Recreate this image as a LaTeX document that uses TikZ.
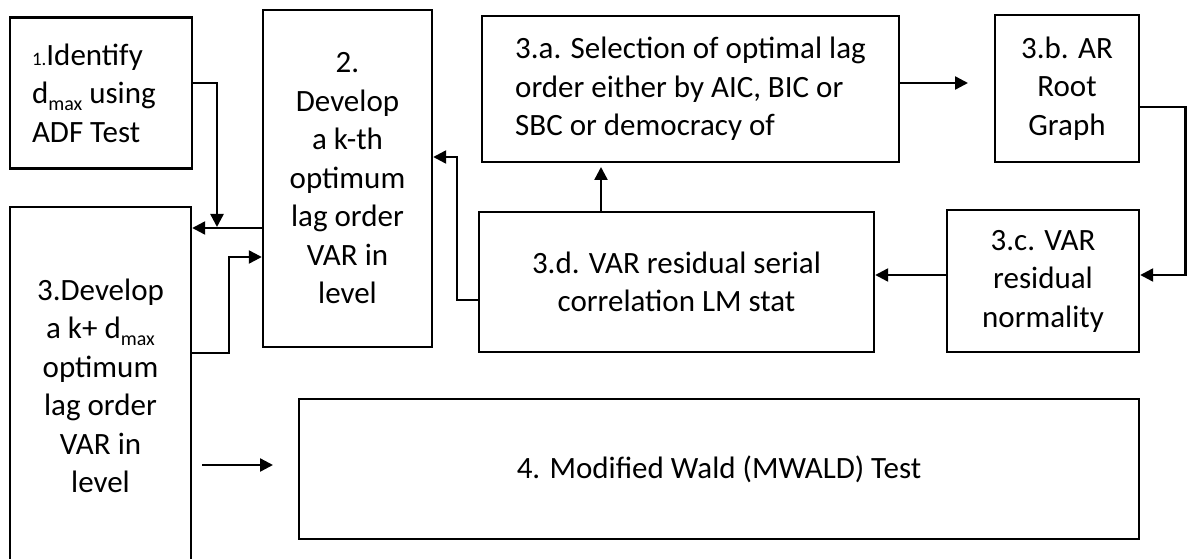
\documentclass[tikz,border=0pt]{standalone}
\usepackage{fontspec}
\setmainfont{Carlito}
\usetikzlibrary{arrows.meta}
% subscript "max" and the small step number
\newcommand{\dsub}{d\raisebox{-0.22em}{\fontsize{20}{20}\selectfont max}}
\newcommand{\smallnum}[1]{{\fontsize{19}{19}\selectfont #1}}
\tikzset{
  box/.style={draw=black, line width=2.4pt, rectangle, inner sep=0pt,
    font=\fontsize{31}{38.5}\selectfont, align=center},
  arr/.style={draw=black, line width=2.4pt,
    -{Triangle[length=13pt,width=13pt]}},
}
\begin{document}
\begin{tikzpicture}[x=1pt,y=-1pt]
\clip (0,0) rectangle (1187,559);
\fill[white] (0,0) rectangle (1187,559);

% boxes
\node[box, minimum width=182pt, minimum height=151pt, text width=138pt, align=flush left]
  (b1) at (101,93) {\smallnum{1.}Identify\\ \dsub{} using\\ ADF Test};
\node[box, minimum width=169pt, minimum height=337pt]
  (b2) at (347.5,178.5) {2.\\ Develop\\ a k-th\\ optimum\\ lag order\\ VAR in\\ level};
\node[box, minimum width=181pt, minimum height=358pt]
  (b3) at (100.5,386) {3.Develop\\ a k+ \dsub\\ optimum\\ lag order\\ VAR in\\ level};
\node[box, minimum width=417pt, minimum height=146pt, align=left]
  (b3a) at (690.5,89) {3.a. Selection of optimal lag\\ order either by AIC, BIC or\\ SBC or democracy of};
\node[box, minimum width=144pt, minimum height=147pt]
  (b3b) at (1067,88.5) {3.b. AR\\ Root\\ Graph};
\node[box, minimum width=192pt, minimum height=142pt]
  (b3c) at (1043,281) {3.c. VAR\\ residual\\ normality};
\node[box, minimum width=395pt, minimum height=140pt]
  (b3d) at (676.5,282) {3.d. VAR residual serial\\ correlation LM stat};
\node[box, minimum width=840pt, minimum height=140pt]
  (b4) at (719,469) {4. Modified Wald (MWALD) Test};

% elbow and free-end points of the connectors
\coordinate (k1) at (217,83);
\coordinate (j1) at (217,227);
\coordinate (k2) at (0,228);
\coordinate (p1) at (229,353);
\coordinate (p2) at (229,257);
\coordinate (q)  at (968,83);
\coordinate (r1) at (1185.5,107);
\coordinate (r2) at (1185.5,275);
\coordinate (s)  at (601,167);
\coordinate (t1) at (457,300);
\coordinate (t2) at (457,157);
\coordinate (u1) at (202,465);
\coordinate (u2) at (273,465);

% connectors
\draw[arr] (b1.east |- k1) -- (k1) -- (j1);
\draw[arr] (b2.west |- k2) -- (b3.east |- k2);
\draw[arr] (b3.east |- p1) -- (p1) -- (p2) -- (b2.west |- p2);
\draw[arr] (b3a.east |- q) -- (q);
\draw[arr] (b3b.east |- r1) -- (r1) -- (r2) -- (b3c.east |- r2);
\draw[arr] (b3c.west |- r2) -- (b3d.east |- r2);
\draw[arr] (b3d.north -| s) -- (s);
\draw[arr] (b3d.west |- t1) -- (t1) -- (t2) -- (b2.east |- t2);
\draw[arr] (u1) -- (u2);
\end{tikzpicture}
\end{document}
